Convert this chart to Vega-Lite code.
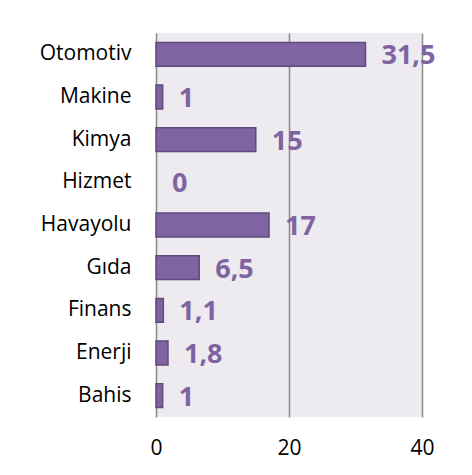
{
  "$schema": "https://vega.github.io/schema/vega-lite/v6.json",
  "autosize": "none",
  "width": 266,
  "height": 384,
  "padding": {"left": 156, "top": 33, "right": 50, "bottom": 58},
  "background": "#ffffff",
  "config": {
    "locale": {"number": {"decimal": ",", "thousands": ".", "grouping": [3], "currency": ["", " TL"]}},
    "view": {"fill": "#EDEAF0", "stroke": null},
    "font": "Open Sans"
  },
  "data": {
    "values": [
      {"sektor": "Otomotiv", "deger": 31.5},
      {"sektor": "Makine", "deger": 1},
      {"sektor": "Kimya", "deger": 15},
      {"sektor": "Hizmet", "deger": 0},
      {"sektor": "Havayolu", "deger": 17},
      {"sektor": "Gıda", "deger": 6.5},
      {"sektor": "Finans", "deger": 1.1},
      {"sektor": "Enerji", "deger": 1.8},
      {"sektor": "Bahis", "deger": 1}
    ]
  },
  "encoding": {
    "y": {
      "field": "sektor", "type": "nominal", "sort": null,
      "scale": {"paddingInner": 0.44, "paddingOuter": 0.22},
      "axis": {"title": null, "ticks": false, "domain": false, "labelFontSize": 21, "labelColor": "#000000", "labelPadding": 25, "labelFont": "Open Sans"}
    },
    "x": {
      "field": "deger", "type": "quantitative",
      "scale": {"domain": [0, 40], "nice": false},
      "axis": {"title": null, "values": [0, 20, 40], "ticks": false, "domain": false, "grid": true, "gridColor": "#8A8A8A", "gridWidth": 1.5, "labelFontSize": 21, "labelColor": "#000000", "labelPadding": 20, "labelFlush": false, "labelFont": "Open Sans", "format": "d"}
    }
  },
  "layer": [
    {
      "mark": {"type": "bar", "color": "#8064A2", "stroke": "#5F4A7C"},
      "encoding": {
        "strokeWidth": {"condition": {"test": "datum.deger === 0", "value": 0}, "value": 1.5}
      }
    },
    {
      "mark": {"type": "text", "align": "left", "baseline": "middle", "dx": 16, "dy": 2, "fontSize": 27, "fontWeight": "bold", "color": "#8064A2", "font": "Open Sans"},
      "encoding": {"text": {"field": "deger", "type": "quantitative", "format": ".3~g"}}
    }
  ]
}
